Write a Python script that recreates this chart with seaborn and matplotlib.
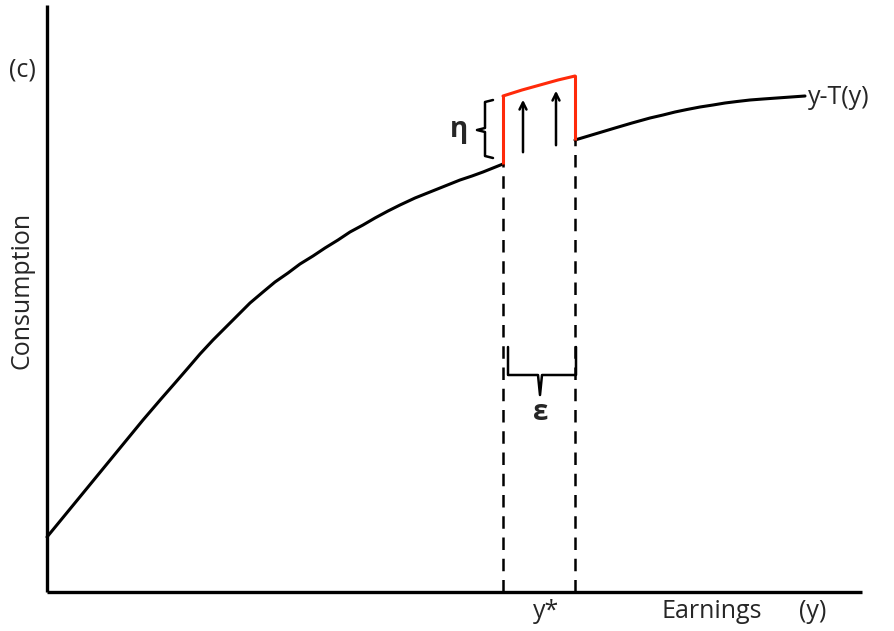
import numpy as np
import pandas as pd
import matplotlib
matplotlib.use("Agg")
from matplotlib import pyplot as plt
import seaborn as sns

# data (earnings on x, consumption on y)
# ------------------------------------------------------------------------------------------
left_earn = [0, 64, 96, 114, 128, 141, 153, 166, 178, 191, 203, 216, 228, 241, 253, 266, 278, 291,
             303, 316, 328, 341, 353, 368, 383, 398, 413, 425, 436, 446, 456]
left_cons = [55, 133, 172, 193, 209, 224, 238, 252, 264, 277, 289, 300, 310, 319, 328, 336, 344, 352,
             360, 367, 374, 381, 387, 394, 400, 406, 412, 416, 420, 424, 428]
right_earn = [528, 548, 568, 585, 603, 616, 628, 640, 653, 666, 678, 690, 703, 716, 730, 744, 758]
right_cons = [452, 458, 464, 469, 474, 477, 480, 482.5, 485, 487, 489, 490.5, 492, 493, 494, 495, 496]

# the shifted (red) piece above the notch
red_earn = [456, 475, 493, 511, 528]
red_cons = [496, 502, 507, 512, 516]
red_left = [428, 496]     # vertical at y*
red_right = [452, 516]    # vertical at y* + eps

notch_earn = [456, 528]
notch_cons = [428, 452]

arrow_earn = [476, 509]
arrow_from = [437, 444]
arrow_to = [495, 504]

axis_top = 587
axis_right = 815

# ------------------------------------------------------------------------------------------
sns.set_style("white")
plt.rcParams['font.family'] = ['Open Sans', 'DejaVu Sans']

fig = plt.figure(figsize=(8.94, 6.31), dpi=100)
ax = fig.add_axes([0, 0, 1, 1])
ax.set_xlim(-47, 847)
ax.set_ylim(-39, 592)
ax.axis('off')

# budget curve, with a gap where the notch is
left = pd.DataFrame({'earnings': left_earn, 'consumption': left_cons})
right = pd.DataFrame({'earnings': right_earn, 'consumption': right_cons})
sns.lineplot(data=left, x='earnings', y='consumption', color='black', lw=2.2, sort=False, estimator=None, ax=ax)
sns.lineplot(data=right, x='earnings', y='consumption', color='black', lw=2.2, sort=False, estimator=None, ax=ax)

# red shifted segment
red = pd.DataFrame({'earnings': red_earn, 'consumption': red_cons})
sns.lineplot(data=red, x='earnings', y='consumption', color='#ff2a0a', lw=2.2, sort=False, estimator=None, ax=ax)
ax.plot([notch_earn[0]] * 2, red_left, color='#ff2a0a', lw=2.2)
ax.plot([notch_earn[1]] * 2, red_right, color='#ff2a0a', lw=2.2)

# dashed drop lines
for e, c in zip(notch_earn, notch_cons):
    ax.plot([e, e], [0, c], color='black', lw=1.8, dashes=(5, 3.5))

# upward arrows
for e, a, b in zip(arrow_earn, arrow_from, arrow_to):
    ax.annotate('', xy=(e, b), xytext=(e, a),
                arrowprops=dict(arrowstyle='->,head_length=0.5,head_width=0.25', color='black', lw=1.8))

# axes
ax.plot([0, 0], [0, axis_top], color='black', lw=2.4, solid_capstyle='butt')
ax.plot([0, axis_right], [0, 0], color='black', lw=2.4, solid_capstyle='butt')

# eta brace (vertical)
ax.plot([446, 438, 438, 430, 438, 438, 446], [492, 490, 464, 462, 460, 436, 434], color='black', lw=1.8)
ax.text(412, 462, 'η', fontsize=20, fontweight='bold', ha='center', va='center')

# epsilon brace (horizontal)
ax.plot([461, 461, 491, 493, 495, 529, 529], [245, 217, 217, 197, 217, 217, 245], color='black', lw=1.8)
ax.text(494, 180, 'ε', fontsize=20, fontweight='bold', ha='center', va='center')

# labels
ax.text(-25, 522, '(c)', fontsize=18, ha='center', va='center')
ax.text(-25, 302, 'Consumption', fontsize=18, ha='center', va='center', rotation=90)
ax.text(761, 494, 'y-T(y)', fontsize=18, ha='left', va='center')
ax.text(499, -20, 'y*', fontsize=18, ha='center', va='center')
ax.text(665, -20, 'Earnings', fontsize=18, ha='center', va='center')
ax.text(766, -20, '(y)', fontsize=18, ha='center', va='center')

plt.savefig('out.png', dpi=100)
